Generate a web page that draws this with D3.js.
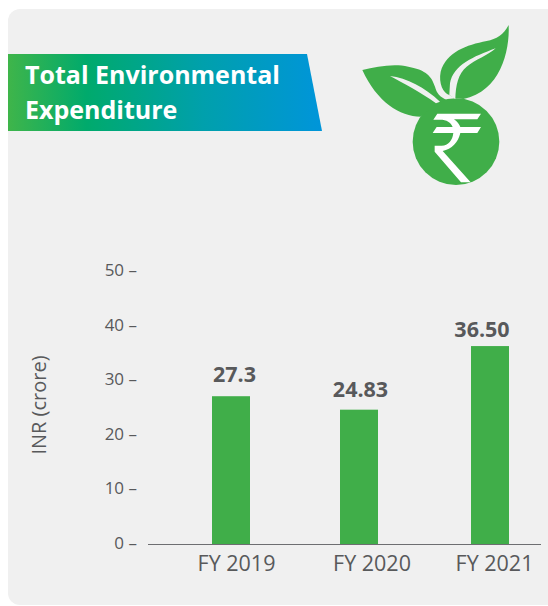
<!DOCTYPE html>
<html><head><meta charset="utf-8">
<script src="https://cdn.jsdelivr.net/npm/d3@7"></script>
<style>html,body{margin:0;padding:0;background:#fff}svg{display:block}text{font-family:"Open Sans",sans-serif}</style>
</head><body><svg id="c" width="548" height="606"></svg>
<script>
const categories = ["FY 2019", "FY 2020", "FY 2021"];
const values = [27.3, 24.83, 36.5];
const valueLabels = ["27.3", "24.83", "36.50"];
const yTicks = [0, 10, 20, 30, 40, 50];
const titleLines = ["Total Environmental", "Expenditure"];
const yTitle = "INR (crore)";

const svg = d3.select("#c");
const ink = "#58595b", green = "#40ae49";

svg.append("rect").attr("x",8).attr("y",9).attr("width",560).attr("height",596).attr("rx",12).attr("fill","#f0f0f0");

const grad = svg.append("defs").append("linearGradient").attr("id","g").attr("x1","0").attr("x2","1");
[[0,"#3fb54a"],[0.25,"#00aa6c"],[0.62,"#00a0ac"],[1,"#0095da"]].forEach(s=>grad.append("stop").attr("offset",s[0]).attr("stop-color",s[1]));
svg.append("path").attr("d","M8,54H307L322,131H8Z").attr("fill","url(#g)");
svg.selectAll("text.title").data(titleLines).join("text").attr("class","title")
  .attr("x",25).attr("y",(d,i)=>84+i*35).attr("fill","#fff").attr("font-size",25).attr("font-weight",700).text(d=>d);

const y = d3.scaleLinear().domain([0,50]).range([545,272.5]);
const xBar = d3.scaleOrdinal().domain(categories).range([212,340,471]);
const xValue = d3.scaleOrdinal().domain(categories).range([234.5,360.5,482]);
const valueGap = d3.scaleOrdinal().domain(categories).range([14,13,9.5]);
const xLabel = d3.scaleOrdinal().domain(categories).range([236,371.5,494]);
const barWidth = 38;

svg.selectAll("rect.bar").data(categories).join("rect").attr("class","bar")
  .attr("x",d=>xBar(d)).attr("width",barWidth)
  .attr("y",(d,i)=>y(values[i])).attr("height",(d,i)=>y(0)-y(values[i])).attr("fill",green);

svg.append("line").attr("x1",148).attr("x2",541).attr("y1",y(0)-.5).attr("y2",y(0)-.5).attr("stroke","#6d6e71").attr("stroke-width",1.2);

const yAxis = svg.append("g").attr("transform","translate(137,-2)")
  .call(d3.axisLeft(y).tickValues(yTicks).tickSize(0).tickPadding(0).tickFormat(d=>d+" \u2013"));
yAxis.select(".domain").remove();
yAxis.selectAll("text").attr("font-size",17).attr("fill",ink).attr("font-family","'Open Sans',sans-serif");

const xAxis = svg.append("g").attr("transform",`translate(0,${y(0)})`)
  .call(d3.axisBottom(xLabel).tickSize(0).tickPadding(11));
xAxis.select(".domain").remove();
xAxis.selectAll("text").attr("font-size",21.5).attr("fill",ink).attr("font-family","'Open Sans',sans-serif");

svg.selectAll("text.val").data(categories).join("text").attr("class","val")
  .attr("x",d=>xValue(d)).attr("y",(d,i)=>y(values[i])-valueGap(d)).attr("text-anchor","middle")
  .attr("font-size",21.5).attr("font-weight",700).attr("fill",ink).text((d,i)=>valueLabels[i]);

svg.append("text").attr("transform","translate(46,405) rotate(-90)").attr("text-anchor","middle")
  .attr("font-size",20).attr("fill",ink).text(yTitle);

const icon = svg.append("g").attr("transform","translate(350,15) scale(0.3333)");
icon.append("circle").attr("cx",318).attr("cy",380).attr("r",130).attr("fill",green);
icon.append("path").attr("fill",green).attr("d","M37,165C80,155 130,145 175,155C230,165 245,185 255,215C260,235 270,245 290,255L260,268L212,305C150,305 80,260 37,165Z");
icon.append("path").attr("fill","#f0f0f0").attr("d","M120,183C170,188 225,218 270,260L258,265C210,230 160,205 120,183Z");
icon.append("path").attr("fill",green).attr("d","M476,30C460,60 440,72 410,78C350,90 290,110 272,170C265,205 280,235 298,240L316,250L340,252C450,230 480,110 476,30Z");
icon.append("path").attr("fill","#f0f0f0").attr("d","M437,100C370,125 310,150 300,205L298,240L316,252C317,210 325,175 350,155C375,135 415,120 437,100Z");
icon.append("path").attr("fill","#fff").attr("d","M262,296H393L382,313H312C322,320 328,328 331,336H393L382,354H331C325,382 305,402 278,408L362,502L333,502L254,410V392H275C295,392 308,375 310,354H248L260,336H308C303,322 290,314 270,314H250Z");
</script></body></html>
